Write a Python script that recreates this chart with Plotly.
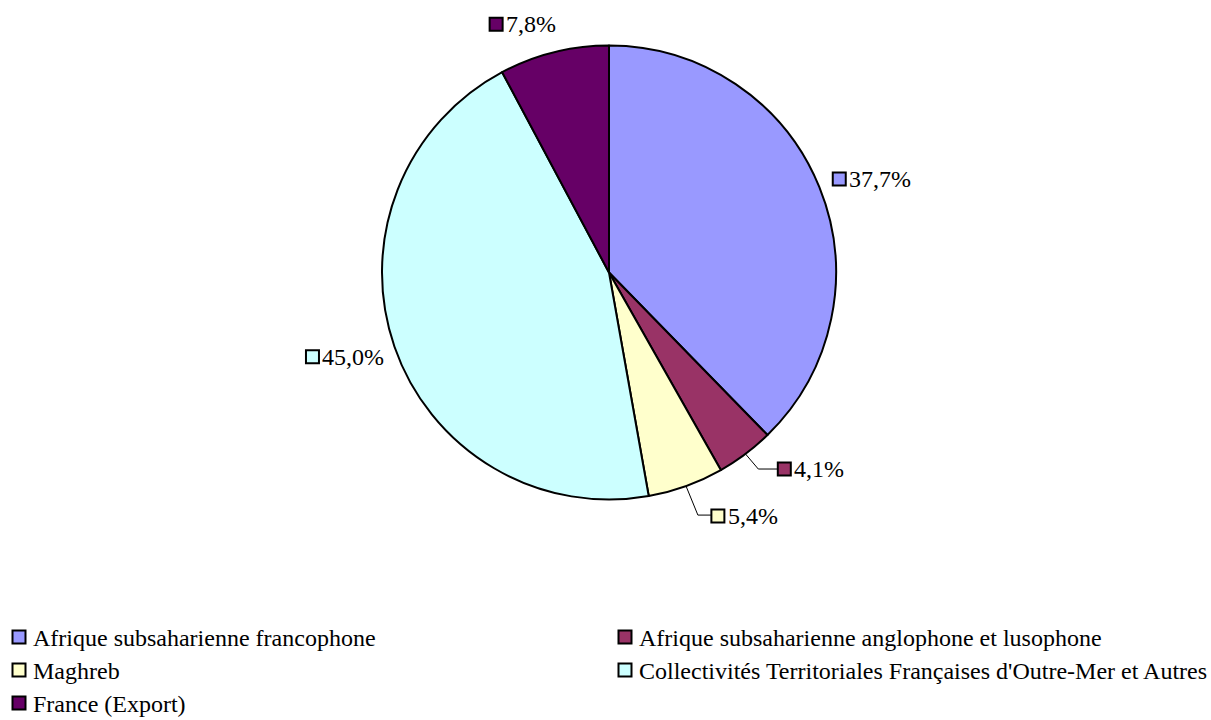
import math
import plotly.graph_objects as go

# Market share by region
regions = [
    "Afrique subsaharienne francophone",
    "Afrique subsaharienne anglophone et lusophone",
    "Maghreb",
    "Collectivités Territoriales Françaises d'Outre-Mer et Autres",
    "France (Export)",
]
shares = [37.7, 4.1, 5.4, 45.0, 7.8]
colors = ["#9999FF", "#993366", "#FFFFCC", "#CCFFFF", "#660066"]

W, H = 1211, 720
CX, CY, R = 609, 272.5, 227
FONT = "Times New Roman, Liberation Serif, DejaVu Serif, serif"
LABEL_FS = 24
LEGEND_FS = 24

fig = go.Figure()

fig.add_trace(go.Pie(
    values=shares,
    labels=regions,
    marker=dict(colors=colors, line=dict(color="black", width=2)),
    sort=False,
    direction="clockwise",
    rotation=0,
    textinfo="none",
    hoverinfo="label+percent",
    showlegend=False,
    domain=dict(x=[(CX - R) / W, (CX + R) / W], y=[(H - CY - R) / H, (H - CY + R) / H]),
))

# label placement: box position relative to the slice's edge midpoint (dx, dy),
# anchor side, optional leader elbow offset
label_style = [
    dict(dx=14, dy=-8, side="left", leader=None),
    dict(dx=33, dy=15, side="left", leader=(13, 15)),
    dict(dx=26, dy=30, side="left", leader=(12, 29)),
    dict(dx=-12, dy=10, side="right", leader=None),
    dict(dx=-32, dy=-28, side="center", leader=None),
]

total = sum(shares)
start = 0.0
box_x, box_y, box_c = [], [], []
for val, col, st in zip(shares, colors, label_style):
    span = 360.0 * val / total
    mid = math.radians(start + span / 2)
    start += span
    ex = CX + R * math.sin(mid)
    ey = CY - R * math.cos(mid)
    lx, ly = ex + st["dx"], ey + st["dy"]
    text = f"{val:.1f}%".replace(".", ",")
    tw = 12.4 * len(text)  # approximate text width in px
    if st["side"] == "left":
        bx = lx + 6
    elif st["side"] == "right":
        bx = lx - tw - 8
    else:
        bx = lx - (tw + 14) / 2 + 6
    if st["leader"] is not None:
        ox, oy = st["leader"]
        fig.add_trace(go.Scatter(
            x=[ex - 3 * math.sin(mid), ex + ox, lx - 1],
            y=[ey + 3 * math.cos(mid), ey + oy, ey + oy],
            mode="lines", line=dict(color="black", width=1),
            hoverinfo="skip", showlegend=False,
        ))
    box_x.append(bx)
    box_y.append(ly)
    box_c.append(col)
    fig.add_annotation(
        x=bx + 8, y=ly, xref="x", yref="y", text=text, showarrow=False,
        xanchor="left", yanchor="middle",
        font=dict(family=FONT, size=LABEL_FS, color="black"),
    )

fig.add_trace(go.Scatter(
    x=box_x, y=box_y, mode="markers",
    marker=dict(symbol="square", size=13, color=box_c, line=dict(color="black", width=2)),
    hoverinfo="skip", showlegend=False,
))

# legend, two columns
col_x = [19, 625]
row_y = [637, 670, 703]
leg_x, leg_y = [], []
for i, (name, col) in enumerate(zip(regions, colors)):
    x0 = col_x[i % 2]
    y0 = row_y[i // 2]
    leg_x.append(x0)
    leg_y.append(y0)
    fig.add_annotation(
        x=x0 + 12, y=y0 + 1, xref="x", yref="y", text=name, showarrow=False,
        xanchor="left", yanchor="middle",
        font=dict(family=FONT, size=LEGEND_FS, color="black"),
    )
fig.add_trace(go.Scatter(
    x=leg_x, y=leg_y, mode="markers",
    marker=dict(symbol="square", size=13, color=colors, line=dict(color="black", width=2)),
    hoverinfo="skip", showlegend=False,
))

fig.update_layout(
    width=W, height=H,
    margin=dict(l=0, r=0, t=0, b=0),
    font=dict(family=FONT, color="black"),
    paper_bgcolor="white", plot_bgcolor="white",
    xaxis=dict(range=[0, W], visible=False, domain=[0, 1], fixedrange=True),
    yaxis=dict(range=[H, 0], visible=False, domain=[0, 1], fixedrange=True),
    showlegend=False,
)

fig.write_html("out.html")
